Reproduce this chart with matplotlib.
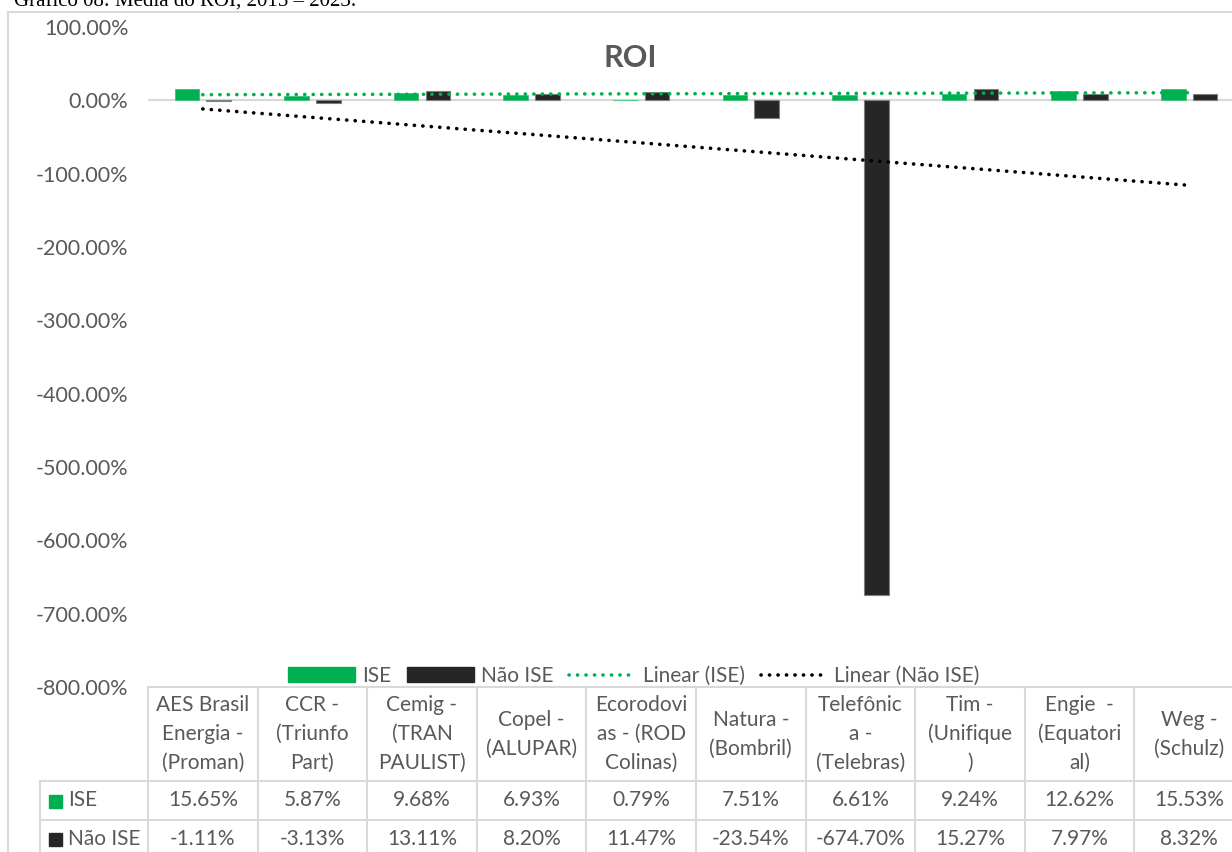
import numpy as np
import matplotlib
matplotlib.use("Agg")
import matplotlib.pyplot as plt
from matplotlib.patches import Patch
from matplotlib.lines import Line2D
from matplotlib.transforms import blended_transform_factory

plt.rcParams["font.family"] = ["Lato", "DejaVu Sans"]

# ── data ─────────────────────────────────────────────────────────────
categories = [
    "AES Brasil\nEnergia -\n(Proman)",
    "CCR -\n(Triunfo\nPart)",
    "Cemig -\n(TRAN\nPAULIST)",
    "Copel -\n(ALUPAR)",
    "Ecorodovi\nas - (ROD\nColinas)",
    "Natura -\n(Bombril)",
    "Telefônic\na -\n(Telebras)",
    "Tim -\n(Unifique\n)",
    "Engie  -\n(Equatori\nal)",
    "Weg -\n(Schulz)",
]
ise = [15.65, 5.87, 9.68, 6.93, 0.79, 7.51, 6.61, 9.24, 12.62, 15.53]
nao_ise = [-1.11, -3.13, 13.11, 8.20, 11.47, -23.54, -674.70, 15.27, 7.97, 8.32]
yticks = [100, 0, -100, -200, -300, -400, -500, -600, -700, -800]

GREEN = "#00B050"
DARK = "#262626"
GREY_TXT = "#595959"
GRID = "#d9d9d9"
W, H = 1232, 852


def fy(py):
    """pixel row (from top) -> figure fraction"""
    return 1 - py / H


def fx(px):
    return px / W


fig = plt.figure(figsize=(W / 100, H / 100), dpi=100, facecolor="white")

# chart border (partly clipped by the crop)
fig.add_artist(Line2D([fx(8), 1.0], [fy(12), fy(12)], color=GRID, lw=1.5,
                      transform=fig.transFigure))
fig.add_artist(Line2D([fx(8), fx(8)], [fy(12), 0], color=GRID, lw=1.5,
                      transform=fig.transFigure))

# caption above the chart, cut at the top of the picture
fig.text(fx(14), fy(7), "Gráfico 08: Média do ROI, 2015 – 2023.",
         family="Liberation Serif", fontsize=15, color="black",
         ha="left", va="baseline")

ax = fig.add_axes([fx(148), fy(687), fx(1244) - fx(148), fy(27) - fy(687)])
x = np.arange(1, len(categories) + 1)
bw = 0.225
off = 0.145
ax.bar(x - off, ise, bw, color=GREEN, edgecolor="#3cc277", lw=0.6, zorder=2)
ax.bar(x + off, nao_ise, bw, color=DARK, edgecolor="#808080", lw=0.8, zorder=2)

# linear trend lines
for vals, col in ((ise, GREEN), (nao_ise, "black")):
    k, b = np.polyfit(x, vals, 1)
    ax.plot([x[0], x[-1]], [k * x[0] + b, k * x[-1] + b], color=col, lw=2.6,
            linestyle=(0, (0.05, 2.3)), dash_capstyle="round", zorder=3)

ax.axhline(0, color=GRID, lw=1.6, zorder=1)
ax.set_xlim(0.5, len(categories) + 0.5)
ax.set_ylim(-800, 100)
ax.set_yticks(yticks)
ax.set_yticklabels([f"{v:.2f}%" for v in yticks])
ax.tick_params(axis="y", length=0, pad=14, labelsize=15.5, labelcolor=GREY_TXT)
ax.set_xticks([])
for s in ax.spines.values():
    s.set_visible(False)

fig.text(fx(630), fy(58), "ROI", ha="center", va="center", fontsize=22,
         weight="bold", color=GREY_TXT)

# legend
handles = [
    Patch(facecolor=GREEN, edgecolor=GREEN),
    Patch(facecolor=DARK, edgecolor=DARK),
    Line2D([], [], color=GREEN, lw=2.6, linestyle=(0, (0.05, 2.3)),
           dash_capstyle="round"),
    Line2D([], [], color="black", lw=2.6, linestyle=(0, (0.05, 2.3)),
           dash_capstyle="round"),
]
labels = ["ISE", "Não ISE", "Linear (ISE)", "Linear (Não ISE)"]
fig.legend(handles, labels, loc="center", bbox_to_anchor=(fx(634), fy(676)),
           ncol=4, frameon=False, fontsize=15, handlelength=3.2,
           handletextpad=0.35, columnspacing=0.75, labelcolor=GREY_TXT,
           borderpad=0, borderaxespad=0)

# data table below the plot
tr = blended_transform_factory(ax.transData, fig.transFigure)
xl, xr = ax.get_xlim()
top, r1, r2 = 687, 781, 820


def hline(py, x0px):
    fig.add_artist(Line2D([fx(x0px), 1.0], [fy(py), fy(py)], color=GRID,
                          lw=1.5, transform=fig.transFigure))


hline(top, 148)
hline(r1, 40)
hline(r2, 40)
fig.add_artist(Line2D([fx(40), fx(40)], [fy(r1), 0], color=GRID, lw=1.5,
                      transform=fig.transFigure))
for b in np.arange(xl, xr + 0.01, 1.0):
    fig.add_artist(Line2D([b, b], [fy(top), 0], color=GRID, lw=1.5,
                          transform=tr))

for xi, cat, v1, v2 in zip(x, categories, ise, nao_ise):
    fig.text(xi, fy((top + r1) / 2), cat, transform=tr, ha="center",
             va="center", fontsize=15, color=GREY_TXT, linespacing=1.55)
    fig.text(xi, fy((r1 + r2) / 2), f"{v1:.2f}%", transform=tr, ha="center",
             va="center", fontsize=15, color=GREY_TXT)
    fig.text(xi, fy((r2 + H) / 2 + 3), f"{v2:.2f}%", transform=tr,
             ha="center", va="center", fontsize=15, color=GREY_TXT)

# row labels with legend keys
for py, lab, col in (((r1 + r2) / 2, "ISE", GREEN),
                     ((r2 + H) / 2 + 3, "Não ISE", DARK)):
    fig.add_artist(plt.Rectangle((fx(49), fy(py + 7)), fx(13), 13 / H,
                                 facecolor=col, edgecolor=col,
                                 transform=fig.transFigure))
    fig.text(fx(68), fy(py), lab, ha="left", va="center", fontsize=15,
             color=GREY_TXT)

fig.savefig("out.png", dpi=100, facecolor="white")
